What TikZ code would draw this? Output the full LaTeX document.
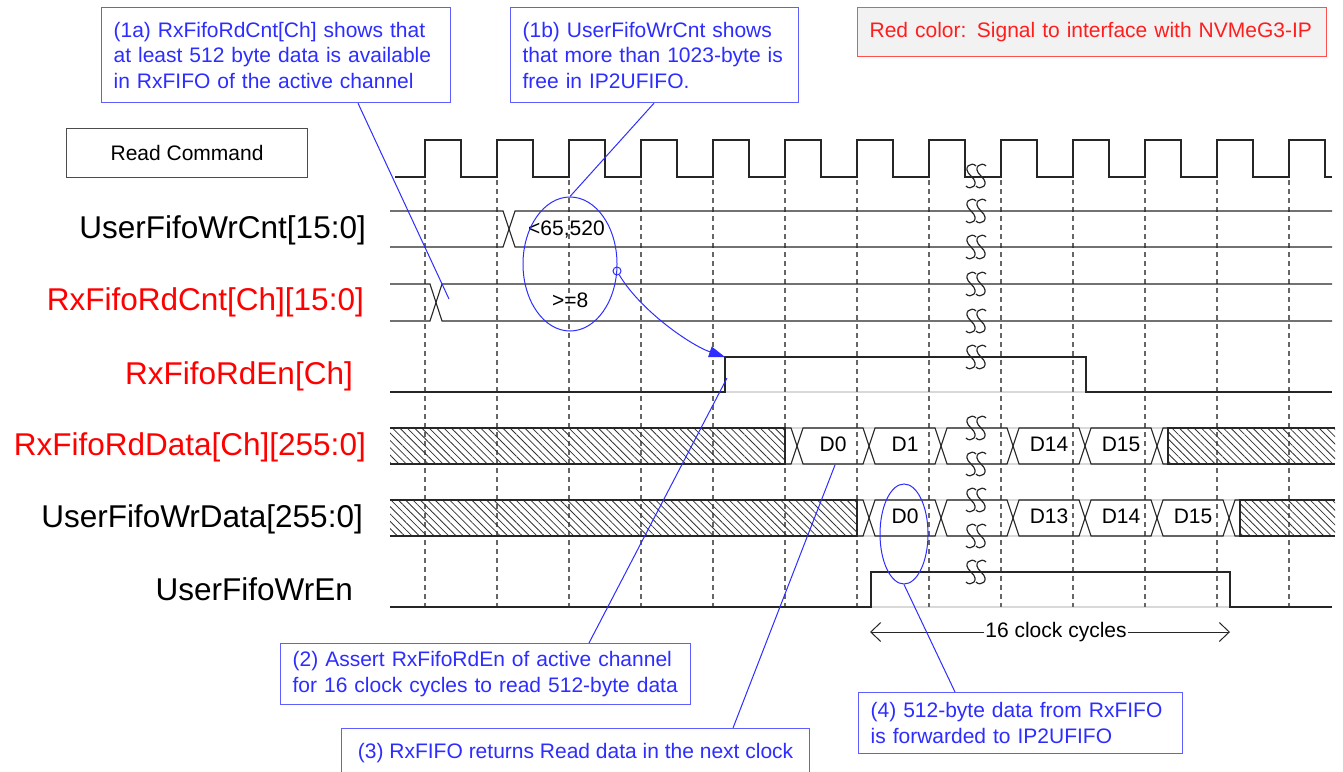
\documentclass[tikz,border=0pt]{standalone}
\usepackage{fontspec}
\setmainfont{Liberation Sans}
\usepackage{xcolor}
\usepackage{tikz}
\usetikzlibrary{arrows.meta,positioning,shapes.geometric,patterns.meta}

\definecolor{sigred}{RGB}{255,0,0}
\definecolor{noteblue}{RGB}{45,45,255}
\definecolor{noteedge}{RGB}{95,95,255}
\definecolor{keyred}{RGB}{255,80,80}
\definecolor{keytext}{RGB}{255,30,30}
\definecolor{keyfill}{RGB}{242,242,242}

\begin{document}
\begin{tikzpicture}[
    x=1pt, y=-1pt,
    sig/.style={black!85, line width=1.1pt},
    rail/.style={black!15, line width=1.1pt},
    edgeln/.style={black!60, line width=1.1pt, dash pattern=on 5pt off 4pt},
    hatch/.style={draw=black!85, line width=1.1pt, pattern={Lines[angle=-45,distance=5.2pt,line width=0.8pt]}, pattern color=black!80},
    siglbl/.style={anchor=base east, inner sep=0pt, font=\fontsize{31.5}{36}\selectfont},
    dat/.style={inner sep=0pt, font=\fontsize{21}{25}\selectfont},
    note/.style={draw=noteedge, fill=white, line width=1.2pt, text=noteblue, align=left, anchor=north west, inner xsep=12pt, inner ysep=0pt, font=\fontsize{21}{25.5}\selectfont},
    lead/.style={noteblue, line width=1pt},
    ring/.style={ellipse, draw=noteblue, line width=1pt, inner sep=0pt},
    span/.style={black!85, line width=1pt, -{Straight Barb[length=10pt,width=19pt]}},
    brk/.pic={\draw[black!85, line width=1.2pt] (0,-10) .. controls (-4,-15) and (-15,-9) .. (-5,0) .. controls (5,9) and (-6,15) .. (-10,10)
              (10,-10) .. controls (6,-15) and (-5,-9) .. (5,0) .. controls (15,9) and (4,15) .. (0,10);}
  ]
  \useasboundingbox (0,0) rectangle (1343,771);

  % rails and clock edges
  \draw[rail] (390,392) -- (1332,392);
  \draw[rail] (390,607) -- (1332,607);
  \foreach \y in {428,464,500,536} \draw[rail] (390,\y) -- (1335,\y);
  \foreach \k in {0,...,12} \draw[edgeln] ({425+72*\k},180) -- ({425+72*\k},607);

  % clock
  \node[draw=black!70, line width=1.1pt, anchor=north west, minimum width=241pt, minimum height=49pt, font=\fontsize{21}{25}\selectfont] (rdcmd) at (66,128) {Read Command};
  \draw[sig] (395,177) \foreach \k in {0,...,12} { -- ({425+72*\k},177) -- ({425+72*\k},140) -- ({461+72*\k},140) -- ({461+72*\k},177) } -- (1332,177);

  % signal names
  \node[siglbl] (lwrcnt) at (366,238) {UserFifoWrCnt[15:0]};
  \node[siglbl, text=sigred] (lrdcnt) at (364,310) {RxFifoRdCnt[Ch][15:0]};
  \node[siglbl, text=sigred] (lrden) at (353,384) {RxFifoRdEn[Ch]};
  \node[siglbl, text=sigred] (lrddat) at (366,455) {RxFifoRdData[Ch][255:0]};
  \node[siglbl] (lwrdat) at (363,527) {UserFifoWrData[255:0]};
  \node[siglbl] (lwren) at (353,600) {UserFifoWrEn};

  % counters
  \draw[sig] (390,211) -- (503,211) -- (515,247) -- (1332,247);
  \draw[sig] (390,247) -- (503,247) -- (515,211) -- (1332,211);
  \node[dat, anchor=base west] (wrcntv) at (528,235) {<65,520};
  \draw[sig] (390,284) -- (430,284) -- (442,321) -- (1332,321);
  \draw[sig] (390,321) -- (430,321) -- (442,284) -- (1332,284);
  \node[dat, anchor=base west] (rdcntv) at (552,307) {>=8};

  % enables
  \draw[sig] (390,392) -- (725,392) -- (725,357) -- (1086,357) -- (1086,392) -- (1332,392);
  \draw[sig] (390,607) -- (871,607) -- (871,572) -- (1230,572) -- (1230,607) -- (1332,607);

  % RxFifoRdData
  \draw[hatch] (390,428) -- (785,428) -- (785,464) -- (390,464);
  \draw[hatch] (1335,428) -- (1168,428) -- (1168,464) -- (1335,464);
  \draw[sig] (785,428) -- (791,428) -- (797,446) -- (791,464) -- (785,464);
  \draw[sig] (1168,428) -- (1163,428) -- (1157,446) -- (1163,464) -- (1168,464);
  \foreach \a/\b/\t [count=\i] in {797/869/D0, 869/941/D1, 941/1013/{}, 1013/1085/D14, 1085/1157/D15} {
    \draw[sig] (\a,446) -- (\a+6,428) -- (\b-6,428) -- (\b,446) -- (\b-6,464) -- (\a+6,464) -- cycle;
    \node[dat, anchor=base] (rd\i) at ({(\a+\b)/2},451) {\t};
  }

  % UserFifoWrData
  \draw[hatch] (390,500) -- (857,500) -- (857,536) -- (390,536);
  \draw[hatch] (1335,500) -- (1240,500) -- (1240,536) -- (1335,536);
  \draw[sig] (857,500) -- (863,500) -- (869,518) -- (863,536) -- (857,536);
  \draw[sig] (1240,500) -- (1235,500) -- (1229,518) -- (1235,536) -- (1240,536);
  \foreach \a/\b/\t [count=\i] in {869/941/D0, 941/1013/{}, 1013/1085/D13, 1085/1157/D14, 1157/1229/D15} {
    \draw[sig] (\a,518) -- (\a+6,500) -- (\b-6,500) -- (\b,518) -- (\b-6,536) -- (\a+6,536) -- cycle;
    \node[dat, anchor=base] (wd\i) at ({(\a+\b)/2},523) {\t};
  }

  % time breaks
  \foreach \y in {176,211,247,284,321,357,428,464,500,536,572} \pic at (976,\y) {brk};

  % 16 cycles
  \node[dat, inner xsep=1pt] (cyc) at (1056,632) {16 clock cycles};
  \coordinate (cycl) at (870,632);
  \coordinate (cycr) at (1230,632);
  \draw[span] (cyc.west) -- (cycl);
  \draw[span] (cyc.east) -- (cycr);

  % remarks
  \node[draw=keyred, fill=keyfill, line width=1.2pt, text=keytext, anchor=north west, text width=445pt, inner xsep=12pt, inner ysep=0pt, minimum height=49pt, font=\fontsize{21}{25}\selectfont] (key) at (857,7) {Red color: Signal to interface with NVMeG3-IP};

  \node[ring, minimum width=94pt, minimum height=134pt] (el1) at (570,264) {};
  \node[ring, minimum width=48pt, minimum height=100pt] (el2) at (904,534) {};
  \node[circle, draw=noteblue, line width=1pt, minimum size=8pt, inner sep=0pt] (tap) at (617,271) {};
  \coordinate (rcpt) at (449,299);
  \coordinate (enrise) at (725,357);
  \coordinate (enmid) at (727,378);
  \coordinate (d0low) at (835,465);

  \node[note, text width=325pt, minimum height=95pt] (n1a) at (101,7) {(1a) RxFifoRdCnt[Ch] shows that\\at least 512 byte data is available\\in RxFIFO of the active channel};
  \node[note, text width=264pt, minimum height=95pt] (n1b) at (510,7) {(1b) UserFifoWrCnt shows\\that more than 1023-byte is\\free in IP2UFIFO.};
  \node[note, text width=386pt, minimum height=61pt] (n2) at (280,643) {(2) Assert RxFifoRdEn of active channel\\for 16 clock cycles to read 512-byte data};
  \node[note, minimum width=468pt, minimum height=48pt] (n3) at (341,728) {(3) RxFIFO returns Read data in the next clock};
  \node[note, text width=300pt, minimum height=61pt] (n4) at (858,692) {(4) 512-byte data from RxFIFO\\is forwarded to IP2UFIFO};

  \draw[lead] ([xshift=257pt]n1a.south west) -- (rcpt);
  \draw[lead] ([xshift=144pt]n1b.south west) -- (el1.north);
  \draw[lead, -{Triangle[length=16pt,width=11pt]}] (tap) .. controls (640,310) and (690,345) .. (enrise);
  \draw[lead] ([xshift=309pt]n2.north west) -- (enmid);
  \draw[lead] ([xshift=392pt]n3.north west) -- (d0low);
  \draw[lead] ([xshift=97pt]n4.north west) -- (el2.south);
\end{tikzpicture}
\end{document}
